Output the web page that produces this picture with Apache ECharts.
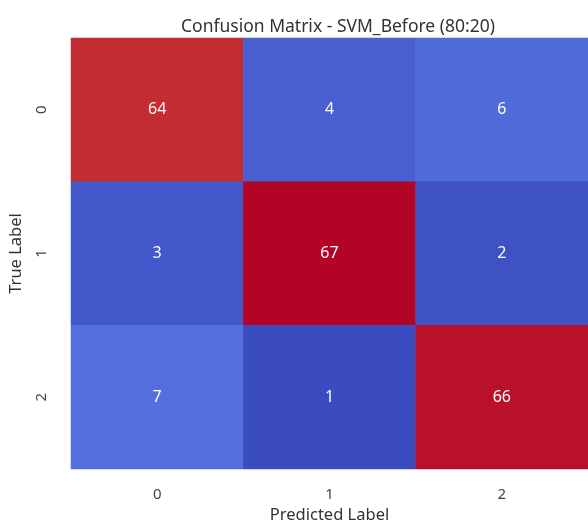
<!DOCTYPE html>
<html>
<head>
<meta charset="utf-8">
<script src="https://cdn.jsdelivr.net/npm/echarts@6/dist/echarts.min.js"></script>
<style>html,body{margin:0;padding:0;background:#fff;}#c{width:588px;height:529px;}</style>
</head>
<body>
<div id="c"></div>
<script>
const predictedLabels = ['0', '1', '2'];
const trueLabels = ['0', '1', '2'];
const row0 = [64, 4, 6];
const row1 = [3, 67, 2];
const row2 = [7, 1, 66];
const rows = [row0, row1, row2];

const coolwarm = ['#3b4cc0','#4961d2','#5572df','#6384eb','#7396f5','#82a6fb','#93b5fe','#a3c2fe','#b3cdfb','#c3d5f4','#dcdddd','#e8d6cc','#f1cdba','#f5c0a7','#f6b293','#f4987a','#ee8468','#e36c55','#d65244','#c43032','#b40426'];

const data = [];
rows.forEach((r, yi) => r.forEach((v, xi) => data.push([xi, yi, v])));

const font = 'Noto Sans';
const chart = echarts.init(document.getElementById('c'));
chart.setOption({
  animation: false,
  title: {
    text: 'Confusion Matrix - SVM_Before (80:20)',
    left: 333, textAlign: 'center', top: 13,
    textStyle: { fontFamily: font, fontSize: 17.5, fontWeight: 'normal', color: '#333' }
  },
  grid: { left: 70, top: 38, right: -9, bottom: 55 },
  xAxis: {
    type: 'category', data: predictedLabels,
    name: 'Predicted Label', nameLocation: 'middle', nameGap: 38,
    nameTextStyle: { fontFamily: font, fontSize: 16.5, color: '#333' },
    axisLine: { show: false }, axisTick: { show: false }, splitLine: { show: false },
    axisLabel: { fontFamily: font, fontSize: 15, color: '#444', margin: 18 }
  },
  yAxis: {
    type: 'category', data: trueLabels, inverse: true,
    name: 'True Label', nameLocation: 'middle', nameGap: 46,
    nameTextStyle: { fontFamily: font, fontSize: 16.5, color: '#333' },
    axisLine: { show: false }, axisTick: { show: false }, splitLine: { show: false },
    axisLabel: { fontFamily: font, fontSize: 15, color: '#444', margin: 22, rotate: 90 }
  },
  visualMap: { show: false, min: 1, max: 67, dimension: 2, inRange: { color: coolwarm } },
  series: [{
    type: 'heatmap', data: data,
    label: { show: true, color: '#fff', fontFamily: font, fontSize: 16 },
    itemStyle: { borderWidth: 0 }
  }]
});
</script>
</body>
</html>
